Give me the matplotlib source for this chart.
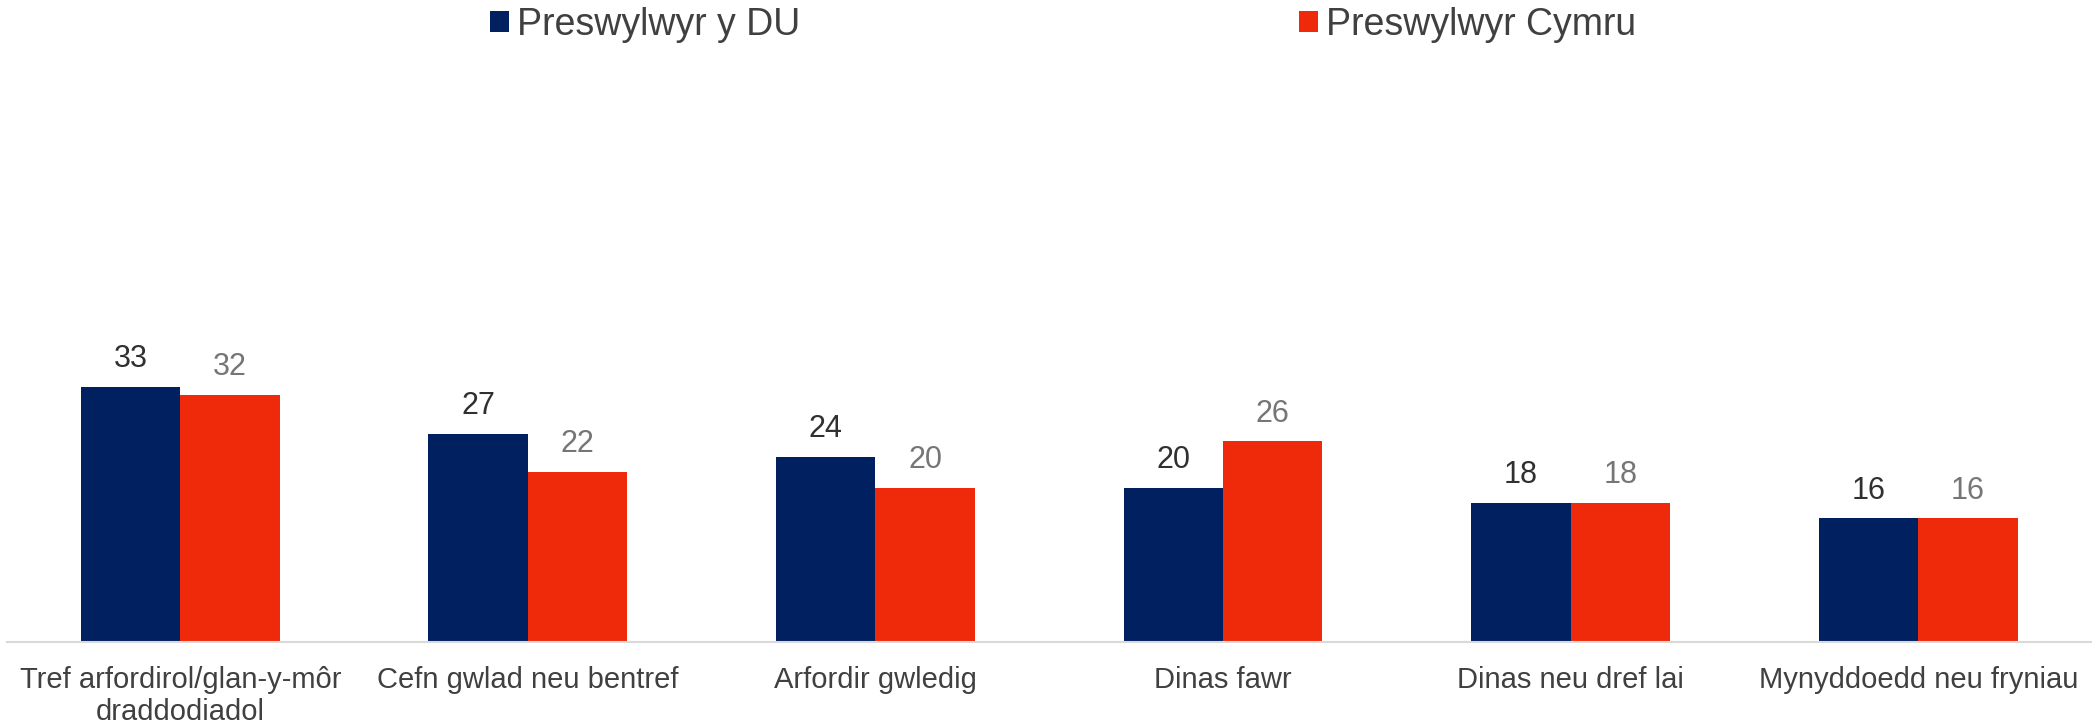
import matplotlib
matplotlib.use("Agg")
import matplotlib.pyplot as plt
import numpy as np

categories = ["Tref arfordirol/glan-y-môr\ndraddodiadol", "Cefn gwlad neu bentref",
              "Arfordir gwledig", "Dinas fawr", "Dinas neu dref lai",
              "Mynyddoedd neu fryniau"]
series_names = ["Preswylwyr y DU", "Preswylwyr Cymru"]
uk_values = [33, 27, 24, 20, 18, 16]
wales_values = [32, 22, 20, 26, 18, 16]

navy = "#002060"
red = "#EE2A0A"

plt.rcParams['font.family'] = ['Liberation Sans', 'DejaVu Sans']

W, H = 2092, 724
fig = plt.figure(figsize=(W / 100, H / 100), dpi=100)
left_px, right_px = 6.5, 2092
base_px = 642
ppu = 7.72
ymax = 60
ax = fig.add_axes([left_px / W, (H - base_px) / H, (right_px - left_px) / W, ymax * ppu / H])

x = np.arange(len(categories))
bw = 0.286
b1 = ax.bar(x - bw / 2, uk_values, bw, color=navy, label=series_names[0])
b2 = ax.bar(x + bw / 2, wales_values, bw, color=red, label=series_names[1])

for rect, v in zip(b1, uk_values):
    ax.annotate(f"{v}", (rect.get_x() + rect.get_width() / 2, v), xytext=(0, 20),
                textcoords="offset points", ha="center", va="center",
                fontsize=22, color="#303030")
for rect, v in zip(b2, wales_values):
    ax.annotate(f"{v}", (rect.get_x() + rect.get_width() / 2, v), xytext=(0, 20),
                textcoords="offset points", ha="center", va="center",
                fontsize=22, color="#767676")

ax.set_xlim(-0.5, len(categories) - 0.5)
ax.set_ylim(0, ymax)
ax.set_xticks(x)
ax.set_xticklabels(categories, fontsize=21, color="#404040", linespacing=1.18)
ax.tick_params(axis="x", length=0, pad=17)
ax.set_yticks([])
for s in ["top", "right", "left"]:
    ax.spines[s].set_visible(False)
ax.spines["bottom"].set_color("#D9D9D9")
ax.spines["bottom"].set_linewidth(1.5)

leg = fig.legend(handles=[b1, b2], labels=series_names, loc="center",
                 bbox_to_anchor=(1063 / W, 1 - 25 / H), ncol=2, frameon=False,
                 fontsize=27, handlelength=0.5, handleheight=0.5, handletextpad=0.22,
                 columnspacing=13.3, labelcolor="#404040")

fig.savefig("out.png", dpi=100)
